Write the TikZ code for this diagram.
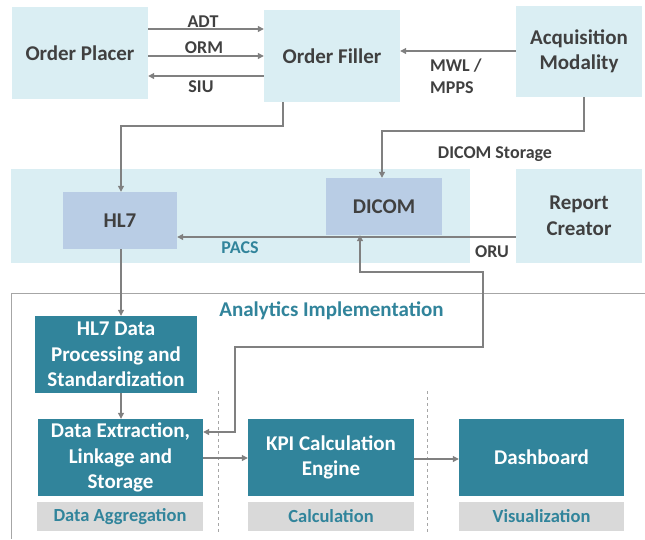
\documentclass[tikz,border=0pt]{standalone}
\usepackage{fontspec}
\setmainfont{Carlito}
\usetikzlibrary{arrows.meta}
\definecolor{lightband}{HTML}{DAEEF3}
\definecolor{steel}{HTML}{B9CDE5}
\definecolor{tealbox}{HTML}{31849B}
\definecolor{greylabel}{HTML}{D9D9D9}
\definecolor{darktext}{HTML}{404040}
\definecolor{linegrey}{HTML}{808080}
\definecolor{framegrey}{HTML}{A6A6A6}
\begin{document}
\begin{tikzpicture}[x=1pt,y=-1pt,
  box/.style={rectangle, inner sep=0pt, align=center, font=\bfseries\fontsize{21}{25.5}\selectfont, text=darktext},
  lightbox/.style={box, fill=lightband},
  steelbox/.style={box, fill=steel},
  tealnode/.style={box, fill=tealbox, text=white},
  greynode/.style={box, fill=greylabel, text=tealbox, font=\bfseries\fontsize{18.5}{22}\selectfont},
  tip/.tip={Triangle[length=6pt,width=6pt]},
  conn/.style={draw=linegrey, line width=1.1pt, -tip},
  lbl/.style={inner sep=0pt, font=\bfseries\fontsize{18}{22}\selectfont, text=darktext, align=left},
  teallbl/.style={lbl, text=tealbox},
]
\useasboundingbox (0,0) rectangle (645,539);
\fill[white] (0,0) rectangle (645,539);

% top row
\node[lightbox, minimum width=136pt, minimum height=92pt] (placer) at (80,53) {Order Placer};
\node[lightbox, minimum width=136pt, minimum height=92pt] (filler) at (332,56) {Order Filler};
\node[lightbox, minimum width=126pt, minimum height=91pt] (acq) at (579,51.5) {Acquisition\\Modality};

% PACS band
\node[lightbox, minimum width=459pt, minimum height=94pt] (pacs) at (240.5,216) {};
\node[steelbox, minimum width=114pt, minimum height=57pt] (hl7) at (120,220.5) {HL7};
\node[steelbox, minimum width=116pt, minimum height=57pt] (dicom) at (384,206.5) {DICOM};
\node[lightbox, minimum width=126pt, minimum height=94pt] (report) at (579,216) {Report\\Creator};
\node[teallbl] (pacslbl) at (240,248) {PACS};

% analytics frame
\draw[framegrey, line width=1pt] (645,293) -- (11,293) -- (11,539);
\node[teallbl, font=\bfseries\fontsize{21}{25}\selectfont] (anlbl) at (331.5,311) {Analytics Implementation};
\draw[framegrey, dashed, line width=0.7pt] (218,391) -- (218,532);
\draw[framegrey, dashed, line width=0.7pt] (427,391) -- (427,532);

\node[tealnode, minimum width=162pt, minimum height=77pt] (proc) at (116,354.5) {HL7 Data\\Processing and\\Standardization};
\node[tealnode, minimum width=165pt, minimum height=77pt] (extr) at (120.5,457.5) {Data Extraction,\\Linkage and\\Storage};
\node[tealnode, minimum width=166pt, minimum height=77pt] (kpi) at (331,457.5) {KPI Calculation\\Engine};
\node[tealnode, minimum width=165pt, minimum height=77pt] (dash) at (541.5,457.5) {Dashboard};
\node[greynode, minimum width=166pt, minimum height=29pt] (agg) at (120,516.5) {Data Aggregation};
\node[greynode, minimum width=166pt, minimum height=29pt] (calc) at (331,516.5) {Calculation};
\node[greynode, minimum width=165pt, minimum height=29pt] (vis) at (541.5,516.5) {Visualization};

% connectors top
\draw[conn] (placer.east |- 0,29) -- (filler.west |- 0,29);
\draw[conn] (placer.east |- 0,56) -- (filler.west |- 0,56);
\draw[conn] (filler.west |- 0,76) -- (placer.east |- 0,76);
\node[lbl] (adt) at (203,22) {ADT};
\node[lbl] (orm) at (204,48) {ORM};
\node[lbl] (siu) at (201,87) {SIU};
\draw[conn] (acq.west |- 0,51) -- (filler.east |- 0,51);
\node[lbl, anchor=west] (mwl) at (430,76) {MWL /\\MPPS};

\draw[conn] (filler.south -| 283,0) -- (283,126) -- (121,126) -- (hl7.north -| 121,0);
\draw[conn] (acq.south -| 584,0) -- (584,131) -- (382,131) -- (dicom.north -| 382,0);
\node[lbl] (dstor) at (495,154) {DICOM Storage};

\draw[conn] (report.west |- 0,237) -- (hl7.east |- 0,237);
\node[lbl] (oru) at (492,252) {ORU};

% analytics connectors
\draw[conn] (hl7.south -| 121,0) -- (proc.north -| 121,0);
\draw[conn] (proc.south -| 121,0) -- (extr.north -| 121,0);
\draw[conn, tip-tip] (extr.east |- 0,432) -- (235,432) -- (235,347) -- (483,347) -- (483,272) -- (360,272) -- (dicom.south -| 360,0);
\draw[conn] (extr.east |- 0,458) -- (kpi.west |- 0,458);
\draw[conn] (kpi.east |- 0,459) -- (dash.west |- 0,459);
\end{tikzpicture}
\end{document}
